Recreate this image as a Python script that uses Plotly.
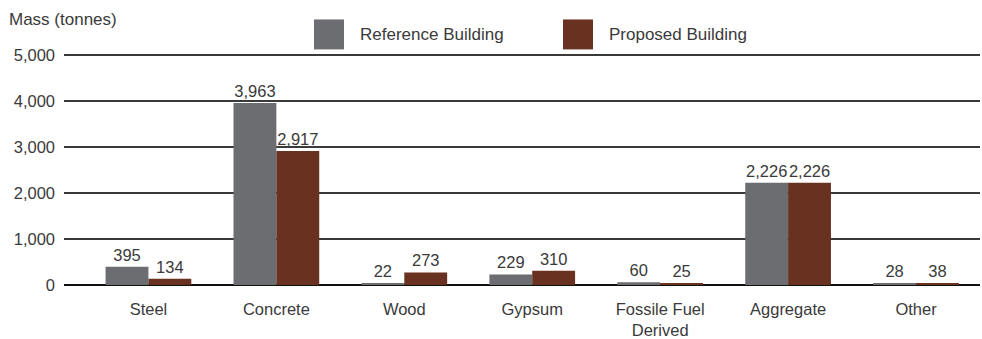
import plotly.graph_objects as go

categories = ["Steel", "Concrete", "Wood", "Gypsum", "Fossile Fuel<br>Derived", "Aggregate", "Other"]
reference_building = [395, 3963, 22, 229, 60, 2226, 28]
proposed_building = [134, 2917, 273, 310, 25, 2226, 38]
y_ticks = [0, 1000, 2000, 3000, 4000, 5000]

GREY = "#6c6d70"
BROWN = "#683120"
TEXT = "#3a3a3a"
FONT = "Liberation Sans"
NUM = 16.5
WORD = 17

fig = go.Figure()
for name, vals, color in [("Reference Building", reference_building, GREY),
                          ("Proposed Building", proposed_building, BROWN)]:
    fig.add_trace(go.Bar(
        x=categories, y=vals, name=name, marker_color=color, marker_line_width=0,
        text=[f"{v:,}" for v in vals], textposition="outside", cliponaxis=False,
        textfont=dict(size=NUM, color=TEXT, family=FONT), showlegend=False,
    ))

fig.update_layout(
    width=982, height=339,
    margin=dict(l=64, r=2, t=54, b=54),
    paper_bgcolor="white", plot_bgcolor="white",
    barmode="group", bargap=0.33, bargroupgap=0,
    font=dict(family=FONT, size=WORD, color=TEXT),
    xaxis=dict(range=[-0.66, 6.5], showgrid=False, zeroline=False,
               showline=False, ticks="", ticklabelstandoff=12, automargin=False,
               tickfont=dict(size=16.5, color=TEXT)),
    yaxis=dict(range=[0, 5030], tickvals=y_ticks, automargin=False,
               ticktext=[f"{v:,}" for v in y_ticks],
               showgrid=True, gridcolor="#3a3a3a", gridwidth=1.5,
               zeroline=True, zerolinecolor="#111111", zerolinewidth=2,
               ticklabelstandoff=8, tickfont=dict(size=NUM, color=TEXT)),
)

fig.add_annotation(text="Mass (tonnes)", xref="paper", yref="paper",
                   x=-57/916, y=1.0, yshift=46, xanchor="left", yanchor="top",
                   showarrow=False, font=dict(size=WORD, color=TEXT, family=FONT))

# Legend drawn as swatches with labels at the top of the chart
legend_items = [("Reference Building", GREY, 314), ("Proposed Building", BROWN, 563)]
for label, color, px in legend_items:
    fig.add_shape(type="rect", xref="paper", yref="paper",
                  x0=(px - 64) / 916, x1=(px + 30 - 64) / 916,
                  y0=(285 - 49) / 231.4, y1=(285 - 19) / 231.4,
                  fillcolor=color, line_width=0)
    fig.add_annotation(text=label, xref="paper", yref="paper",
                       x=(px + 44 - 64) / 916, y=(285 - 34) / 231.4,
                       xanchor="left", yanchor="middle", showarrow=False,
                       font=dict(size=WORD, color=TEXT, family=FONT))

fig.write_html("out.html")
